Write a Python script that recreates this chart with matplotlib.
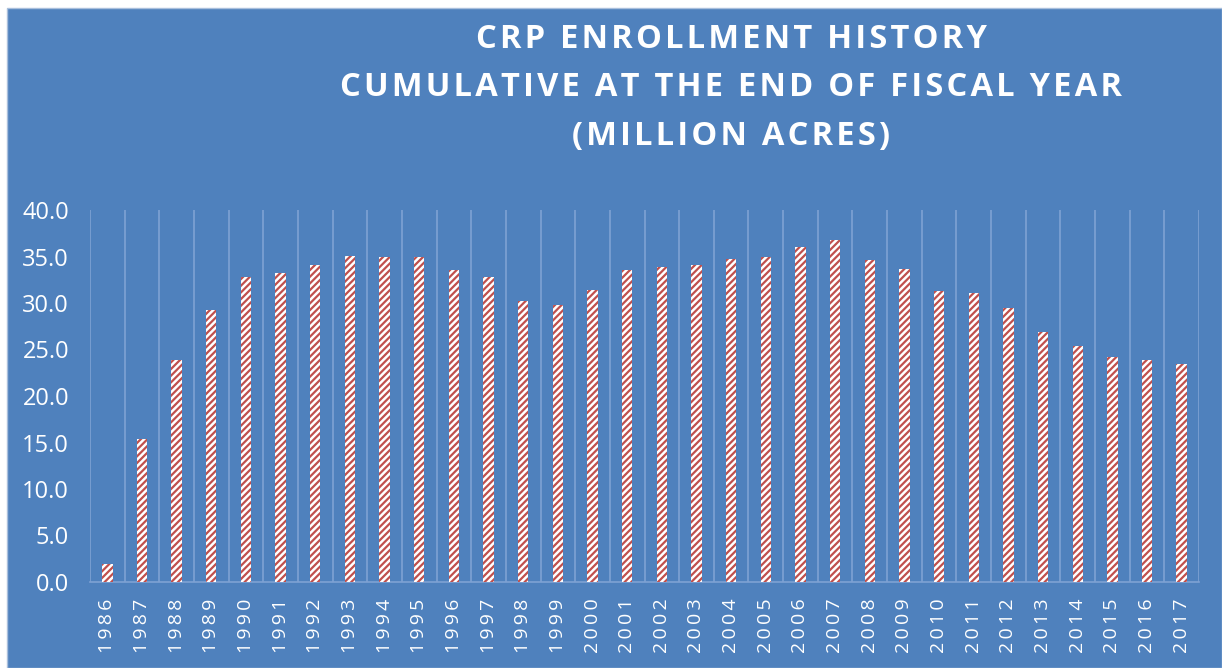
import numpy as np
import matplotlib.pyplot as plt
from matplotlib.patches import Rectangle

years = list(range(1986, 2018))
acres = [1.9, 15.4, 23.9, 29.2, 32.8, 33.2, 34.1, 35.1, 35.0, 35.0,
         33.5, 32.8, 30.2, 29.8, 31.4, 33.6, 33.9, 34.1, 34.7, 34.9,
         36.0, 36.8, 34.6, 33.7, 31.3, 31.1, 29.5, 26.9, 25.4, 24.2,
         23.9, 23.4]

title_lines = ["CRP ENROLLMENT HISTORY",
               "CUMULATIVE AT THE END OF FISCAL YEAR",
               "(MILLION ACRES)"]

bg = '#4F81BD'
grid_col = '#7FA2D3'
fonts = ['Open Sans', 'DejaVu Sans']


def spaced(s, sep='\u200a'):
    # wide letter spacing like the original chart
    return sep.join(s)


plt.rcParams['hatch.linewidth'] = 1.6

fig = plt.figure(figsize=(12.22, 6.68), dpi=100, facecolor='white')
fig.patches.append(Rectangle((7 / 1222, 0), 1 - 7 / 1222, 1 - 8 / 668,
                             transform=fig.transFigure, facecolor=bg,
                             edgecolor='#A9BFDC', linewidth=1, zorder=-10))

ax = fig.add_axes([90 / 1222, 1 - 582 / 668, 1109 / 1222, 372 / 668])
ax.patch.set_alpha(0)

x = np.arange(len(years))
ax.bar(x, acres, width=0.3, facecolor='white', edgecolor='#C0504D',
       hatch='/////', linewidth=0, zorder=3)

ax.set_xlim(-0.5, len(years) - 0.5)
ax.set_ylim(0, 40)
ax.set_yticks(np.arange(0, 41, 5))
ax.set_yticklabels([f"{v:.1f}" for v in np.arange(0, 41, 5)])
ax.set_xticks(x)
ax.set_xticklabels([spaced(str(y), '\u2009') for y in years], rotation=90)
ax.set_xticks(np.arange(-0.5, len(years)), minor=True)
ax.grid(True, which='minor', axis='x', color=grid_col, linewidth=1.2, zorder=1)
ax.grid(False, which='major')

for s in ['top', 'right', 'left']:
    ax.spines[s].set_visible(False)
ax.spines['bottom'].set_color(grid_col)
ax.spines['bottom'].set_linewidth(1.2)

ax.tick_params(axis='both', which='both', length=0, colors='white')
ax.tick_params(axis='y', labelsize=17, pad=15)
ax.tick_params(axis='x', labelsize=14, pad=12)
for lab in ax.get_xticklabels() + ax.get_yticklabels():
    lab.set_family(fonts)

for i, line in enumerate(title_lines):
    fig.text(731 / 1222, 1 - (40 + i * 48) / 668, spaced(line), ha='center',
             va='center', color='white', fontsize=23.5, fontweight='bold',
             family=fonts)

fig.savefig('out.png', dpi=100, facecolor='white')
